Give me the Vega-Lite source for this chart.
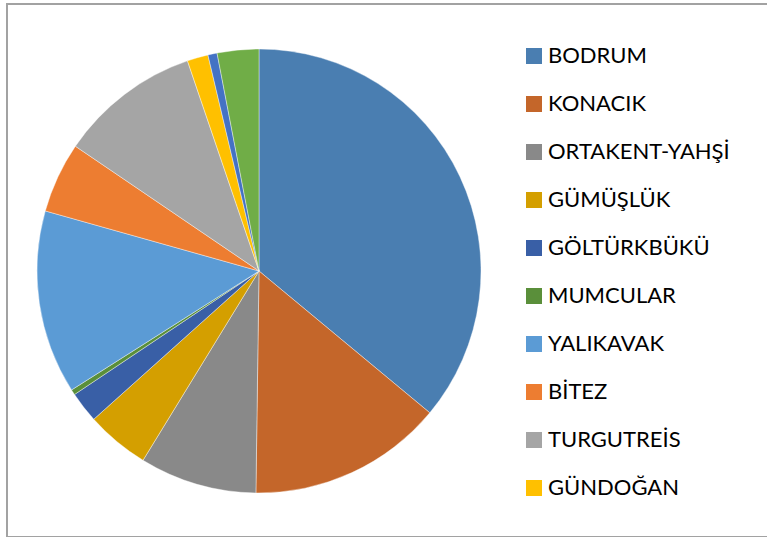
{
  "$schema": "https://vega.github.io/schema/vega-lite/v6.json",
  "width": 770,
  "height": 533,
  "autosize": {"type": "none"},
  "padding": {"left": 7, "top": 4, "right": 0, "bottom": 0},
  "background": "white",
  "data": {
    "values": [
      {"region": "BODRUM", "value": 129.7, "order": 1},
      {"region": "KONACIK", "value": 51.1, "order": 2},
      {"region": "ORTAKENT-YAHŞİ", "value": 30.7, "order": 3},
      {"region": "GÜMÜŞLÜK", "value": 16.6, "order": 4},
      {"region": "GÖLTÜRKBÜKÜ", "value": 8.1, "order": 5},
      {"region": "MUMCULAR", "value": 1.4, "order": 6},
      {"region": "YALIKAVAK", "value": 48.1, "order": 7},
      {"region": "BİTEZ", "value": 18.5, "order": 8},
      {"region": "TURGUTREİS", "value": 37.0, "order": 9},
      {"region": "GÜNDOĞAN", "value": 5.5, "order": 10},
      {"region": "TORBA", "value": 2.4, "order": 11},
      {"region": "YALIÇİFTLİK", "value": 10.9, "order": 12}
    ]
  },
  "layer": [
    {
      "mark": {"type": "rect", "fill": null, "fillOpacity": 0, "stroke": "#a3a3a3", "strokeWidth": 1.3},
      "encoding": {}
    },
    {
      "mark": {"type": "arc", "outerRadius": 222, "x": 252, "y": 267, "stroke": "white", "strokeWidth": 0.4},
      "encoding": {
        "theta": {"field": "value", "type": "quantitative", "stack": true},
        "order": {"field": "order", "type": "quantitative"},
        "color": {
          "field": "region",
          "type": "nominal",
          "sort": null,
          "scale": {
            "domain": ["BODRUM", "KONACIK", "ORTAKENT-YAHŞİ", "GÜMÜŞLÜK", "GÖLTÜRKBÜKÜ", "MUMCULAR", "YALIKAVAK", "BİTEZ", "TURGUTREİS", "GÜNDOĞAN", "TORBA", "YALIÇİFTLİK"],
            "range": ["#4A7EB1", "#C4662A", "#898989", "#D49F00", "#395FA6", "#5A8F3A", "#5B9BD5", "#ED7D31", "#A5A5A5", "#FFC000", "#4472C4", "#70AD47"]
          },
          "legend": {
            "title": null,
            "values": ["BODRUM", "KONACIK", "ORTAKENT-YAHŞİ", "GÜMÜŞLÜK", "GÖLTÜRKBÜKÜ", "MUMCULAR", "YALIKAVAK", "BİTEZ", "TURGUTREİS", "GÜNDOĞAN"],
            "orient": "none",
            "legendX": 516,
            "legendY": 41,
            "padding": 0,
            "symbolType": "square",
            "symbolSize": 256,
            "symbolStrokeWidth": 0,
            "labelFont": "Lato",
            "labelFontSize": 22,
            "labelColor": "#000000",
            "labelOffset": 3,
            "rowPadding": 26,
            "labelLimit": 300
          }
        }
      }
    }
  ]
}
